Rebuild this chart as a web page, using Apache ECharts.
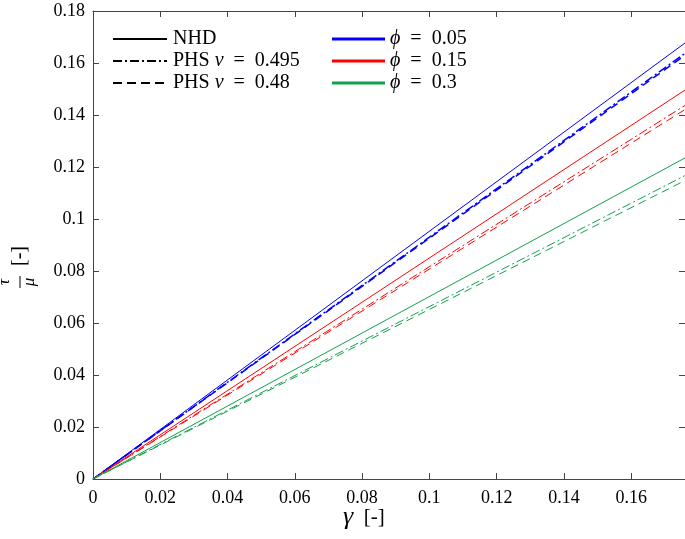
<!DOCTYPE html>
<html>
<head>
<meta charset="utf-8">
<script src="https://cdn.jsdelivr.net/npm/echarts@6/dist/echarts.min.js"></script>
<style>html,body{margin:0;padding:0;background:#fff}#c{width:685px;height:539px}</style>
</head>
<body>
<div id="c"></div>
<script>
// strain values (x) and shear stress / mu (y)
const gamma = [0, 0.176];
const nhd_005 = [0, 0.1677];
const phs495_005 = [0, 0.1637];
const phs48_005 = [0, 0.1630];
const nhd_015 = [0, 0.1496];
const phs495_015 = [0, 0.1437];
const phs48_015 = [0, 0.1421];
const nhd_03 = [0, 0.1235];
const phs495_03 = [0, 0.1167];
const phs48_03 = [0, 0.1148];
const xTicks = [0, 0.02, 0.04, 0.06, 0.08, 0.1, 0.12, 0.14, 0.16];
const yTicks = [0, 0.02, 0.04, 0.06, 0.08, 0.1, 0.12, 0.14, 0.16, 0.18];
const legendLeft = ['NHD', 'PHS ν\u2002=\u20020.495', 'PHS ν\u2002=\u20020.48'];
const legendRight = ['ϕ\u2002=\u20020.05', 'ϕ\u2002=\u20020.15', 'ϕ\u2002=\u20020.3'];

const BLUE = '#0000ff', RED = '#ff0000', GREEN = '#12a04c';
const DASHDOT = [9, 3, 2, 3];
const DASH = [8, 5];
const FONT = 'Liberation Serif';

function pts(y) { return gamma.map((g, i) => [g, y[i]]); }
function line(name, y, color, type, width) {
  return { name, type: 'line', data: pts(y), symbol: 'none', silent: true,
    lineStyle: { color, type, width }, itemStyle: { color }, z: 3 };
}
function richLabel(s) {
  return s.split(/([νϕ])/).filter(p => p).map(p => /[νϕ]/.test(p) ? '{i|' + p + '}' : '{r|' + p + '}').join('');
}
const rich = {
  r: { fontFamily: FONT, fontSize: 20, fill: '#000' },
  i: { fontFamily: FONT, fontSize: 20, fontStyle: 'italic', fill: '#000' }
};
const legendGraphics = [];
const rowY = [39, 61, 83];
const leftStyles = [{ dash: null }, { dash: [9, 3, 2, 3] }, { dash: [9, 5] }];
const rightColors = [BLUE, RED, GREEN];
rowY.forEach((y, i) => {
  legendGraphics.push({ type: 'line', shape: { x1: 113, y1: y, x2: 167, y2: y },
    style: { stroke: '#000', lineWidth: 2, lineDash: leftStyles[i].dash } });
  legendGraphics.push({ type: 'text', x: 173, y: y,
    style: { rich, text: richLabel(legendLeft[i]), verticalAlign: 'middle' } });
  legendGraphics.push({ type: 'line', shape: { x1: 332, y1: y, x2: 385, y2: y },
    style: { stroke: rightColors[i], lineWidth: 3 } });
  legendGraphics.push({ type: 'text', x: 390, y: y,
    style: { rich, text: richLabel(legendRight[i]), verticalAlign: 'middle' } });
});

const axisCol = '#444';
const chart = echarts.init(document.getElementById('c'));
chart.setOption({
  animation: false,
  grid: { left: 93, right: -1, top: 11, bottom: 60 },
  xAxis: [{
    type: 'value', min: 0, max: 0.176, interval: 0.02,
    axisLine: { show: true, lineStyle: { color: axisCol, width: 1 } },
    axisTick: { show: true, inside: true, length: 6, lineStyle: { color: axisCol } },
    axisLabel: { showMaxLabel: false, fontFamily: FONT, fontSize: 18, color: '#000', margin: 10,
      formatter: v => xTicks.some(t => Math.abs(t - v) < 1e-9) ? String(+v.toFixed(2)) : '' },
    splitLine: { show: false }
  }, {
    type: 'value', position: 'top', min: 0, max: 0.176, interval: 0.02,
    axisLine: { show: true, onZero: false, lineStyle: { color: axisCol, width: 1 } },
    axisTick: { show: true, inside: true, length: 6, lineStyle: { color: axisCol } },
    axisLabel: { show: false }, splitLine: { show: false }
  }],
  yAxis: [{
    type: 'value', min: 0, max: 0.18, interval: 0.02,
    axisLine: { show: true, lineStyle: { color: axisCol, width: 1 } },
    axisTick: { show: true, inside: true, length: 6, lineStyle: { color: axisCol } },
    axisLabel: { fontFamily: FONT, fontSize: 18, color: '#000', margin: 8,
      formatter: v => yTicks.some(t => Math.abs(t - v) < 1e-9) ? String(+v.toFixed(2)) : '' },
    splitLine: { show: false }
  }, {
    type: 'value', position: 'right', min: 0, max: 0.18, interval: 0.02,
    axisLine: { show: true, onZero: false, lineStyle: { color: axisCol, width: 1 } },
    axisTick: { show: true, inside: true, length: 6, lineStyle: { color: axisCol } },
    axisLabel: { show: false }, splitLine: { show: false }
  }],
  series: [
    line('nhd005', nhd_005, BLUE, 'solid', 1),
    line('a005', phs495_005, BLUE, DASHDOT, 1.5),
    line('b005', phs48_005, BLUE, DASH, 1.5),
    line('nhd015', nhd_015, RED, 'solid', 1),
    line('a015', phs495_015, RED, DASHDOT, 1),
    line('b015', phs48_015, RED, DASH, 1),
    line('nhd03', nhd_03, GREEN, 'solid', 1),
    line('a03', phs495_03, GREEN, DASHDOT, 1),
    line('b03', phs48_03, GREEN, DASH, 1)
  ],
  graphic: legendGraphics.concat([
    { type: 'text', left: 343, top: 504,
      style: { rich: { g: { fontFamily: FONT, fontSize: 26, fontStyle: 'italic', fill: '#000' },
                       r: { fontFamily: FONT, fontSize: 21, fill: '#000' } },
               text: '{g|γ}{r|  [-]}', fill: '#000' } },
    { type: 'group', x: 20, y: 282, rotation: Math.PI / 2, children: [
      { type: 'text', x: 0, y: -7, style: { text: 'τ', fontFamily: FONT, fontStyle: 'italic', fontSize: 17, fill: '#000', align: 'center', verticalAlign: 'bottom' } },
      { type: 'line', shape: { x1: -6, y1: 0, x2: 6, y2: 0 }, style: { stroke: '#000', lineWidth: 1 } },
      { type: 'text', x: 0, y: 1, style: { text: 'μ', fontFamily: FONT, fontStyle: 'italic', fontSize: 17, fill: '#000', align: 'center', verticalAlign: 'top' } },
      { type: 'text', x: 16, y: 0, style: { text: '[-]', fontFamily: FONT, fontSize: 20, fill: '#000', align: 'left', verticalAlign: 'middle' } }
    ] }
  ])
});
</script>
</body>
</html>
